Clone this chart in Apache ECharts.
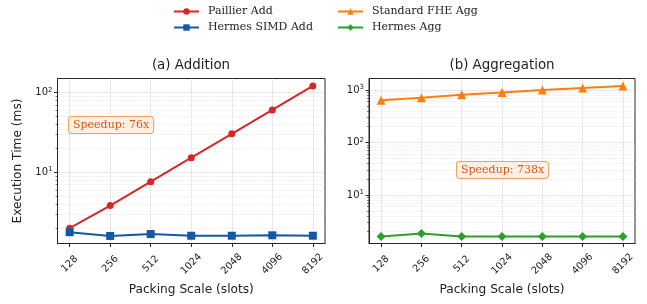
<!DOCTYPE html>
<html><head><meta charset="utf-8">
<script src="https://cdn.jsdelivr.net/npm/echarts@6/dist/echarts.min.js"></script>
<style>html,body{margin:0;padding:0;background:#fff}#c{width:647px;height:304px}</style>
</head><body><div id="c"></div>
<script>
var categories = [128, 256, 512, 1024, 2048, 4096, 8192];
var paillierAdd = [1.98, 3.8, 7.6, 15.2, 30.3, 60.5, 121];
var hermesSimdAdd = [1.76, 1.58, 1.67, 1.59, 1.59, 1.61, 1.59];
var standardFheAgg = [640, 715, 810, 900, 1000, 1090, 1190];
var hermesAgg = [1.62, 1.85, 1.62, 1.61, 1.61, 1.61, 1.61];
var leftMajorTicks = [10, 100];
var rightMajorTicks = [10, 100, 1000];
var titles = ['(a) Addition', '(b) Aggregation'];
var speedups = ['Speedup: 76x', 'Speedup: 738x'];

function pairs(vals){ return categories.map(function(c,i){ return [c, vals[i]]; }); }
function minorTicks(lo, hi){
  var out=[]; for(var d=lo; d<hi; d*=10){ for(var k=2;k<10;k++){ out.push(d*k); } } return out;
}
function fmtPow(v){ var e=Math.round(Math.log10(v)); return '{b|10}{s|'+e+'}'; }

var sans = 'DejaVu Sans';
var serif = 'DejaVu Serif';
var gridLine = {show:true, lineStyle:{type:'dotted', color:'#c8c8c8', width:0.8}};
var grids = [
  {left:57.5, top:78.5, width:267.5, height:165, show:true, borderColor:'#262626', borderWidth:1, backgroundColor:'transparent'},
  {left:369, top:78.5, width:266, height:165, show:true, borderColor:'#262626', borderWidth:1, backgroundColor:'transparent'}
];
function xAxis(gi){
  return {
    type:'log', logBase:2, gridIndex:gi, min:Math.pow(2,6.7), max:Math.pow(2,13.3),
    name:'Packing Scale (slots)', nameLocation:'middle', nameGap:39,
    nameTextStyle:{fontFamily:sans, fontSize:12.2, color:'#222'},
    axisLine:{show:true, lineStyle:{color:'#262626', width:1}},
    axisTick:{show:true, length:3.5, customValues:categories, lineStyle:{color:'#262626'}},
    axisLabel:{customValues:categories, rotate:45, align:'center', verticalAlign:'middle', fontFamily:sans, fontSize:9.8, color:'#222', margin:20.5,
      formatter:function(v){ return String(Math.round(v)); }},
    splitLine:gridLine, minorTick:{show:false}, minorSplitLine:{show:false}
  };
}
function yAxisMajor(gi, mn, mx, ticks, withName){
  return {
    type:'log', logBase:10, gridIndex:gi, min:mn, max:mx, position:'left',
    name: withName ? 'Execution Time (ms)' : '', nameLocation:'middle', nameGap:34,
    nameTextStyle:{fontFamily:sans, fontSize:12.2, color:'#222'},
    axisLine:{show:true, lineStyle:{color:'#262626', width:1}},
    axisTick:{show:true, length:3.5, customValues:ticks, lineStyle:{color:'#262626'}},
    axisLabel:{customValues:ticks, color:'#222', margin:5, formatter:fmtPow,
      rich:{b:{fontFamily:sans, fontSize:10, color:'#222'}, s:{fontFamily:sans, fontSize:7, color:'#222', verticalAlign:'top', padding:[0,0,5,0]}}},
    splitLine:gridLine
  };
}
function yAxisMinor(gi, mn, mx, ticks){
  return {
    type:'log', logBase:10, gridIndex:gi, min:mn, max:mx, position:'left', offset:0,
    axisLine:{show:false},
    axisTick:{show:true, length:2, customValues:ticks, lineStyle:{color:'#262626', width:0.6}},
    axisLabel:{show:false},
    splitLine:{show:true, lineStyle:{type:'dotted', color:'#dcdcdc', width:0.6}}
  };
}
var lMin=1.27, lMax=150, rMin=1.19, rMax=1656;
var legendText = {fontFamily:serif, fontSize:11, color:'#222', padding:[0,0,0,4]};
var option = {
  animation:false,
  backgroundColor:'#fff',
  title:[
    {text:titles[0], left:191, top:59, textAlign:'center', padding:0, textStyle:{fontFamily:sans, fontSize:13.4, fontWeight:'normal', color:'#222'}},
    {text:titles[1], left:502, top:59, textAlign:'center', padding:0, textStyle:{fontFamily:sans, fontSize:13.4, fontWeight:'normal', color:'#222'}}
  ],
  legend:[
    {orient:'vertical', left:173, top:6, padding:0, itemWidth:25, itemHeight:8, itemGap:5, data:['Paillier Add','Hermes SIMD Add'], textStyle:legendText},
    {orient:'vertical', left:337, top:6, padding:0, itemWidth:25, itemHeight:8, itemGap:5, data:['Standard FHE Agg','Hermes Agg'], textStyle:legendText}
  ],
  grid:grids,
  xAxis:[xAxis(0), xAxis(1)],
  yAxis:[
    yAxisMajor(0, lMin, lMax, leftMajorTicks, true),
    yAxisMinor(0, lMin, lMax, minorTicks(1, 100)),
    yAxisMajor(1, rMin, rMax, rightMajorTicks, false),
    yAxisMinor(1, rMin, rMax, minorTicks(1, 1000))
  ],
  series:[
    {name:'Paillier Add', type:'line', xAxisIndex:0, yAxisIndex:0, data:pairs(paillierAdd), symbol:'circle', symbolSize:7,
     itemStyle:{color:'#d62728'}, lineStyle:{width:2, color:'#d62728'}},
    {name:'Hermes SIMD Add', type:'line', xAxisIndex:0, yAxisIndex:0, data:pairs(hermesSimdAdd), symbol:'rect', symbolSize:8,
     itemStyle:{color:'#1458a4'}, lineStyle:{width:2, color:'#1458a4'}},
    {name:'Standard FHE Agg', type:'line', xAxisIndex:1, yAxisIndex:2, data:pairs(standardFheAgg), symbol:'triangle', symbolSize:9,
     itemStyle:{color:'#ff7f0e'}, lineStyle:{width:2, color:'#ff7f0e'}},
    {name:'Hermes Agg', type:'line', xAxisIndex:1, yAxisIndex:2, data:pairs(hermesAgg), symbol:'diamond', symbolSize:9,
     itemStyle:{color:'#2ca02c'}, lineStyle:{width:2, color:'#2ca02c'}}
  ],
  graphic:[
    {type:'text', left:68, top:116, z:10, style:{text:speedups[0], font:'11px "DejaVu Serif"', fill:'#d9571a',
      backgroundColor:'#fdf0e2', borderColor:'#f5a05a', borderWidth:1, borderRadius:3, padding:[3,4,2,4]}},
    {type:'text', left:456, top:161, z:10, style:{text:speedups[1], font:'11px "DejaVu Serif"', fill:'#d9571a',
      backgroundColor:'#fdf0e2', borderColor:'#f5a05a', borderWidth:1, borderRadius:3, padding:[3,4,2,4]}}
  ]
};
var chart = echarts.init(document.getElementById('c'), null, {renderer:'canvas'});
chart.setOption(option);
</script></body></html>
